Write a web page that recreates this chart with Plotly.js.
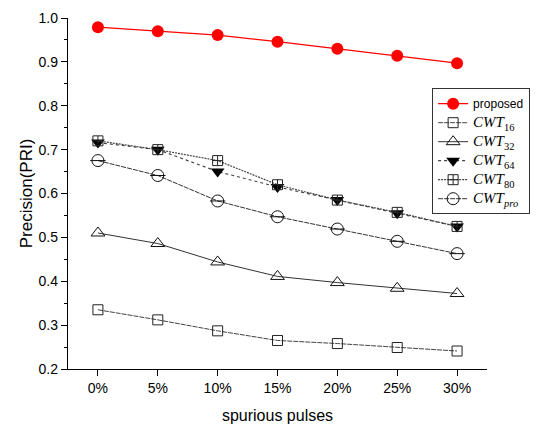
<!DOCTYPE html>
<html><head><meta charset="utf-8">
<script src="https://cdn.plot.ly/plotly-3.0.1.min.js"></script>
<style>body{margin:0;padding:0;background:#fff}#chart{width:542px;height:424px}</style>
</head><body><div id="chart"></div>
<script>
const categories = ['0%','5%','10%','15%','20%','25%','30%'];
const proposed = [0.979, 0.970, 0.961, 0.946, 0.930, 0.914, 0.897];
const cwt16 = [0.335, 0.312, 0.287, 0.265, 0.258, 0.249, 0.241];
const cwt32 = [0.510, 0.486, 0.444, 0.411, 0.397, 0.384, 0.372];
const cwt64 = [0.716, 0.700, 0.650, 0.615, 0.585, 0.555, 0.525];
const cwt80 = [0.720, 0.700, 0.675, 0.620, 0.585, 0.557, 0.525];
const cwtpro = [0.675, 0.641, 0.583, 0.547, 0.519, 0.491, 0.463];
const S = '<span style="font-family:Liberation Serif, DejaVu Serif, serif;font-size:15px">';
const names = ['proposed', S+'<i>CWT</i><sub>16</sub></span>', S+'<i>CWT</i><sub>32</sub></span>', S+'<i>CWT</i><sub>64</sub></span>', S+'<i>CWT</i><sub>80</sub></span>', S+'<i>CWT</i><sub><i>pro</i></sub></span>'];

const idx = categories.map((c,i)=>i);
function tr(y, name, line, marker){
  return {x: idx, y: y, name: name, type:'scatter', mode:'lines+markers', line: line, marker: marker, cliponaxis:false};
}
const data = [
  tr(proposed, names[0], {color:'#ff0000', width:1.2}, {symbol:'circle', size:12, color:'#ff0000'}),
  tr(cwt16, names[1], {color:'#444', width:1, dash:'5px,1px'}, {symbol:'square-open', size:10, color:'#222', line:{width:1}}),
  tr(cwt32, names[2], {color:'#333', width:1}, {symbol:'triangle-up-open', size:12, color:'#111', line:{width:1}}),
  tr(cwt64, names[3], {color:'#444', width:1.2, dash:'dot'}, {symbol:'triangle-down', size:12, color:'#000'}),
  tr(cwt80, names[4], {color:'#444', width:1.2, dash:'2px,1px'}, {symbol:'square-cross-open', size:10, color:'#222', line:{width:1}}),
  tr(cwtpro, names[5], {color:'#333', width:1, dash:'5px,1px'}, {symbol:'circle-open', size:12, color:'#111', line:{width:1}}),
  {x: idx, y: cwtpro, type:'scatter', mode:'markers', showlegend:false, cliponaxis:false,
   marker:{symbol:'line-ew-open', size:11, color:'#111', line:{width:1, color:'#111'}}}
];
const layout = {
  width:542, height:424,
  margin:{l:68, r:38, t:18, b:55},
  paper_bgcolor:'#fff', plot_bgcolor:'#fff',
  font:{family:'Liberation Sans, Arial, sans-serif', color:'#000', size:14},
  showlegend:true,
  legend:{x:0.869, y:0.80, xanchor:'left', yanchor:'top', bordercolor:'#333', borderwidth:1, bgcolor:'#fff',
    font:{family:'Liberation Sans, Arial', size:12, color:'#000'}, tracegroupgap:0, itemwidth:30},
  xaxis:{range:[-0.5,6.5], tickvals:idx, ticktext:categories, showgrid:false, zeroline:false,
    showline:true, linecolor:'#000', linewidth:1.2, ticks:'outside', ticklen:6, tickcolor:'#000',
    tickfont:{size:14}, title:{text:'spurious pulses', font:{size:16}, standoff:16}},
  yaxis:{range:[0.2,1.0], dtick:0.1, tickformat:'.1f', showgrid:false, zeroline:false,
    showline:true, linecolor:'#000', linewidth:1.2, ticks:'outside', ticklen:6, tickcolor:'#000',
    minor:{dtick:0.05, ticks:'outside', ticklen:3, tickcolor:'#000', showgrid:false},
    tickfont:{size:14}, title:{text:'Precision(PRI)', font:{size:17}, standoff:1}}
};
Plotly.newPlot('chart', data, layout, {displayModeBar:false, staticPlot:true});
</script></body></html>
